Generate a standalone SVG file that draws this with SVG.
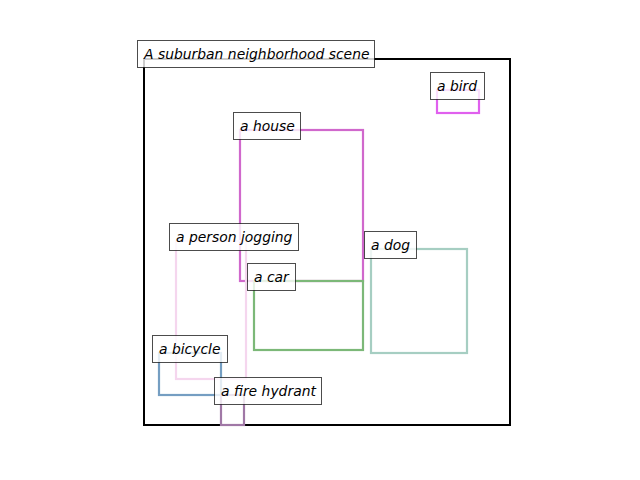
<svg xmlns="http://www.w3.org/2000/svg" width="640" height="480" viewBox="0 0 640 480">
<style>
.box{fill:none;stroke-width:2.2}
.lbl{fill:#fff;fill-opacity:0.8;stroke:#000;stroke-opacity:0.7;stroke-width:1}
.t{font-family:"DejaVu Sans",sans-serif;font-style:italic;font-size:13.9px;fill:#000}
</style>
<rect width="640" height="480" fill="#fff"/>
<g id="scene"><rect x="144" y="59" width="366" height="366" fill="none" stroke="#000" stroke-width="2"/></g>
<g id="house"><rect class="box" x="240" y="130" width="123" height="151" stroke="#d068cc"/></g>
<g id="bird"><rect class="box" x="437" y="90" width="42" height="23" stroke="#e060ee"/></g>
<g id="person"><rect class="box" x="176" y="241" width="70" height="138" stroke="#f5d6ee"/></g>
<g id="car"><rect class="box" x="254" y="281" width="109" height="69" stroke="#7cb878"/></g>
<g id="dog"><rect class="box" x="371" y="249" width="96" height="104" stroke="#a6cec2"/></g>
<g id="bicycle"><rect class="box" x="159" y="353" width="62" height="42" stroke="#759ec2"/></g>
<g id="hydrant"><rect class="box" x="221" y="395" width="23" height="30" stroke="#a078a6"/></g>
<g id="labels">
<g id="lbl-scene"><rect class="lbl" x="137.5" y="40.5" width="237" height="27"/><text class="t" x="144" y="59">A suburban neighborhood scene</text></g>
<g id="lbl-bird"><rect class="lbl" x="430.5" y="72.5" width="54" height="27"/><text class="t" x="437" y="91">a bird</text></g>
<g id="lbl-house"><rect class="lbl" x="233.5" y="112.5" width="67" height="27"/><text class="t" x="240" y="131">a house</text></g>
<g id="lbl-person"><rect class="lbl" x="169.5" y="223.5" width="129" height="27"/><text class="t" x="176" y="242">a person jogging</text></g>
<g id="lbl-dog"><rect class="lbl" x="364.5" y="231.5" width="52" height="27"/><text class="t" x="371" y="250">a dog</text></g>
<g id="lbl-car"><rect class="lbl" x="247.5" y="263.5" width="48" height="27"/><text class="t" x="254" y="282">a car</text></g>
<g id="lbl-bicycle"><rect class="lbl" x="152.5" y="335.5" width="75" height="27"/><text class="t" x="159" y="354">a bicycle</text></g>
<g id="lbl-hydrant"><rect class="lbl" x="214.5" y="377.5" width="107" height="27"/><text class="t" x="221" y="396">a fire hydrant</text></g>
</g>
</svg>
